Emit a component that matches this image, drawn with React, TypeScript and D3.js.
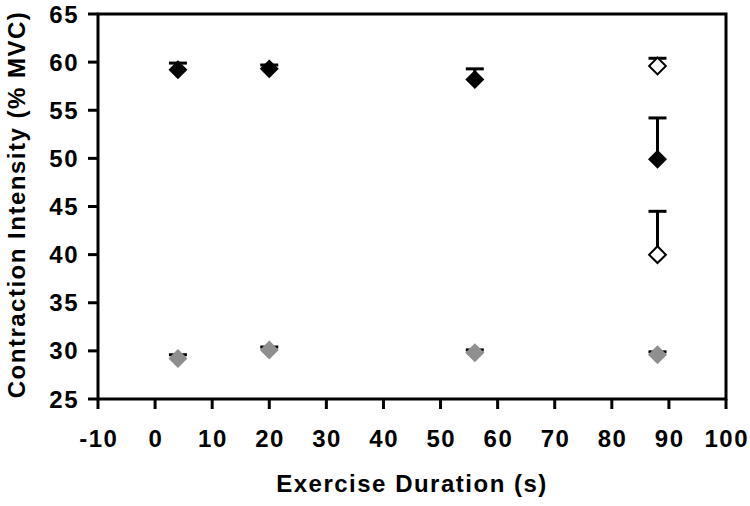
import React from "react";
import * as d3 from "d3";

const xTicks = [-10, 0, 10, 20, 30, 40, 50, 60, 70, 80, 90, 100];
const yTicks = [25, 30, 35, 40, 45, 50, 55, 60, 65];

const durations = [4, 20, 56, 88];
const filledMeans = [59.2, 59.3, 58.2, 49.9];
const filledUpper = [59.9, 59.7, 59.3, 54.2];

const openDurations = [88, 88];
const openMeans = [59.6, 40.0];
const openUpper = [60.4, 44.5];

const grayMeans = [29.2, 30.1, 29.8, 29.6];
const grayUpper = [29.6, 30.4, 30.1, 29.9];

const W = 750;
const H = 506;
const left = 98;
const right = 726;
const top = 14;
const bottom = 399;

export default function App() {
  const x = d3.scaleLinear().domain([-10, 100]).range([left, right]);
  const y = d3.scaleLinear().domain([25, 65]).range([bottom, top]);
  const diamond = d3.symbol(d3.symbolSquare, 180)() as string;
  const diamondOpen = d3.symbol(d3.symbolSquare, 140)() as string;
  const font = "'Liberation Sans', Arial, sans-serif";
  const fs = 24;
  const ls = 1.5;
  const capHalf = 9;

  const errBar = (xv: number, m: number, u: number, key: string) => (
    <g key={key} stroke="#000" strokeWidth={3}>
      <line x1={x(xv)} x2={x(xv)} y1={y(m)} y2={y(u)} />
      <line x1={x(xv) - capHalf} x2={x(xv) + capHalf} y1={y(u)} y2={y(u)} />
    </g>
  );

  return (
    <svg width={W} height={H} style={{ position: "absolute", left: 0, top: 0, background: "#fff" }}>
      <rect x={0} y={0} width={W} height={H} fill="#fff" />
      {/* box */}
      <rect x={left} y={top} width={right - left} height={bottom - top} fill="none" stroke="#000" strokeWidth={3} />
      {/* x ticks */}
      {xTicks.map((t) => (
        <g key={"xt" + t}>
          <line x1={x(t)} x2={x(t)} y1={bottom} y2={bottom + 10} stroke="#000" strokeWidth={3} />
          <text x={x(t) + ls / 2} y={447} textAnchor="middle" fontFamily={font} fontWeight="bold" fontSize={fs} letterSpacing={ls} fill="#000">
            {t}
          </text>
        </g>
      ))}
      {/* y ticks */}
      {yTicks.map((t) => (
        <g key={"yt" + t}>
          <line x1={left - 10} x2={left} y1={y(t)} y2={y(t)} stroke="#000" strokeWidth={3} />
          <text x={79} y={y(t) + 8.5} textAnchor="end" fontFamily={font} fontWeight="bold" fontSize={fs} letterSpacing={ls} fill="#000">
            {t}
          </text>
        </g>
      ))}
      {/* axis titles */}
      <text x={(left + right) / 2} y={492} textAnchor="middle" fontFamily={font} fontWeight="bold" fontSize={fs} letterSpacing={ls} fill="#000">
        Exercise Duration (s)
      </text>
      <text
        transform={`translate(25, ${(top + bottom) / 2 - 2}) rotate(-90)`}
        textAnchor="middle"
        fontFamily={font}
        fontWeight="bold"
        fontSize={fs}
        letterSpacing={ls}
        fill="#000"
      >
        Contraction Intensity (% MVC)
      </text>
      {/* error bars */}
      {durations.map((d, i) => errBar(d, grayMeans[i], grayUpper[i], "ge" + i))}
      {durations.map((d, i) => errBar(d, filledMeans[i], filledUpper[i], "fe" + i))}
      {openDurations.map((d, i) => errBar(d, openMeans[i], openUpper[i], "oe" + i))}
      {/* markers */}
      {durations.map((d, i) => (
        <path key={"gm" + i} d={diamond} transform={`translate(${x(d)},${y(grayMeans[i])}) rotate(45)`} fill="#8f8f8f" />
      ))}
      {durations.map((d, i) => (
        <path key={"fm" + i} d={diamond} transform={`translate(${x(d)},${y(filledMeans[i])}) rotate(45)`} fill="#000" />
      ))}
      {openDurations.map((d, i) => (
        <path
          key={"om" + i}
          d={diamondOpen}
          transform={`translate(${x(d)},${y(openMeans[i])}) rotate(45)`}
          fill="#fff"
          stroke="#000"
          strokeWidth={2}
        />
      ))}
    </svg>
  );
}
